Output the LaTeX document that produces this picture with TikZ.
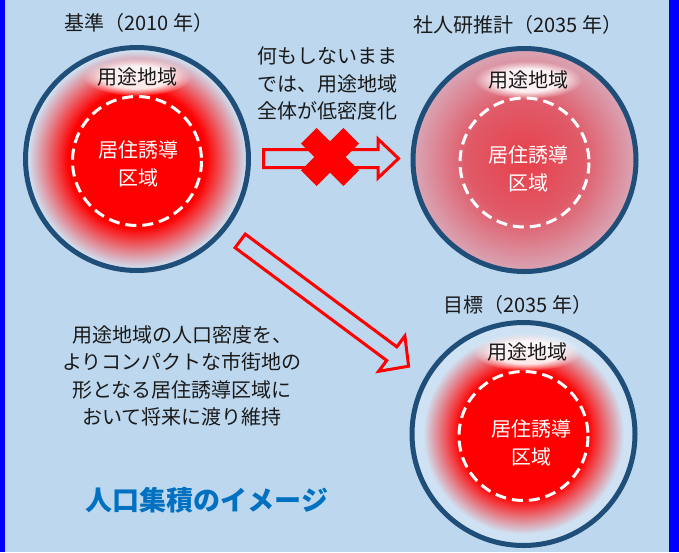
\documentclass[tikz,border=0pt]{standalone}
\usepackage{fontspec}
\newfontfamily\cjk{Noto Sans CJK JP}
\usetikzlibrary{calc,fadings}
\definecolor{bg}{HTML}{BDD7EE}
\definecolor{ring}{HTML}{1F4E79}
\definecolor{lightin}{HTML}{CFE2F3}
\definecolor{side}{HTML}{0000FF}
\definecolor{ttl}{HTML}{0070C0}
\definecolor{pinkc}{HTML}{E8404A}
\definecolor{pinkm}{HTML}{E05A68}
\definecolor{pinke}{HTML}{D9A6B6}
\definecolor{txt}{HTML}{1A1A1A}
\definecolor{arrred}{HTML}{FF0000}
\pgfdeclareradialshading{zoneA}{\pgfpoint{0bp}{0bp}}{color(0bp)=(red); color(15.5bp)=(red); color(24.5bp)=(lightin); color(50bp)=(lightin)}
\pgfdeclareradialshading{zoneB}{\pgfpoint{0bp}{0bp}}{color(0bp)=(pinkc); color(13bp)=(pinkm); color(25bp)=(pinke); color(50bp)=(pinke)}
\pgfdeclareradialshading{zoneC}{\pgfpoint{0bp}{0bp}}{color(0bp)=(red); color(14.5bp)=(red); color(22.5bp)=(lightin); color(50bp)=(lightin)}
\pgfdeclareradialshading{glowsh}{\pgfpoint{0bp}{0bp}}{color(0bp)=(white); color(15bp)=(white); color(25bp)=(black); color(50bp)=(black)}
\pgfdeclarefading{glowfade}{\pgfuseshading{glowsh}}
\begin{document}
\begin{tikzpicture}[x=1pt,y=-1pt,
  title/.style={font=\cjk\fontsize{20}{27.5}\selectfont, text=txt, align=center, inner sep=0pt},
  body/.style={font=\cjk\fontsize{20}{27.5}\selectfont, text=txt, align=center, inner sep=0pt},
  zonelbl/.style={font=\cjk\fontsize{20}{27.5}\selectfont, text=txt, inner sep=0pt},
  innerlbl/.style={font=\cjk\fontsize{20}{28}\selectfont, text=white, align=center, inner sep=0pt},
  bigtitle/.style={font=\cjk\bfseries\fontsize{27}{30}\selectfont, text=ttl, inner sep=0pt},
  outerring/.style={draw=ring, line width=5pt},
  dashring/.style={draw=white, line width=3pt, dash pattern=on 11pt off 6pt},
  glow/.style={fill=white, fill opacity=0.9, path fading=glowfade, fit fading=true},
  hollow/.style={draw=arrred, line width=3pt, line join=miter, fill=bg}]
\useasboundingbox (0,0) rectangle (679,552);
\fill[bg] (0,0) rectangle (679,552);
\fill[side] (0,0) rectangle (5,552);
\fill[side] (669,0) rectangle (679,552);
% centres
\coordinate (c1) at (137,159);
\coordinate (c2) at (524.5,160);
\coordinate (c3) at (523.5,434);
\coordinate (g1) at (137,77);
\coordinate (g2) at (528,80);
\coordinate (g3) at (527,352);
% circle 1
\shade[shading=zoneA] (c1) circle[radius=111.5];
\draw[outerring] (c1) circle[radius=111.5];
\draw[dashring] ($(c1)+(0,2)$) circle[radius=64.5];
% circle 2
\shade[shading=zoneB] (c2) circle[radius=111.5];
\draw[outerring] (c2) circle[radius=111.5];
\draw[dashring] ($(c2)+(0,2.5)$) circle[radius=64.5];
% circle 3
\shade[shading=zoneC] (c3) circle[radius=111.5];
\draw[outerring] (c3) circle[radius=111.5];
\draw[dashring] ($(c3)+(0,2)$) circle[radius=64.5];
% glows behind the zone labels
\fill[glow] (g1) ellipse[x radius=54, y radius=19];
\fill[glow] (g2) ellipse[x radius=54, y radius=19];
\fill[glow] (g3) ellipse[x radius=54, y radius=19];
% labels in circles
\node[zonelbl] (u1) at (g1) {用途地域};
\node[innerlbl] (r1) at (138,164) {居住誘導\\区域};
\node[zonelbl] (u2) at (g2) {用途地域};
\node[innerlbl] (r2) at (528,168.5) {居住誘導\\区域};
\node[zonelbl] (u3) at (g3) {用途地域};
\node[innerlbl] (r3) at (531,442.5) {居住誘導\\区域};
% titles
\node[title] (t1) at (139,23) {基準（2010 年）};
\node[title] (t2) at (518,25) {社人研推計（2035 年）};
\node[title] (t3) at (518,305) {目標（2035 年）};
% texts
\node[body] (n1) at (327,83.5) {何もしないまま\\では、用途地域\\全体が低密度化};
\node[body] (n2) at (182,376) {用途地域の人口密度を、\\よりコンパクトな市街地の\\形となる居住誘導区域に\\おいて将来に渡り維持};
\node[bigtitle] (n3) at (207,500) {人口集積のイメージ};
% horizontal hollow arrow
\draw[hollow] (263.5,149.5) -- (378,149.5) -- (378,139) -- (398.5,158.5) -- (378,178) -- (378,167.5) -- (263.5,167.5) -- cycle;
% red cross
\fill[arrred, rotate around={45:(330,157)}] (300,146) rectangle (360,168);
\fill[arrred, rotate around={-45:(330,157)}] (300,146) rectangle (360,168);
% diagonal hollow arrow
\draw[hollow] (235.13,247.72) -- (245.27,234.08) -- (396.82,346.84) -- (404.88,336.01) -- (408.6,366.2) -- (378.62,371.31) -- (386.68,360.48) -- cycle;
\end{tikzpicture}
\end{document}
